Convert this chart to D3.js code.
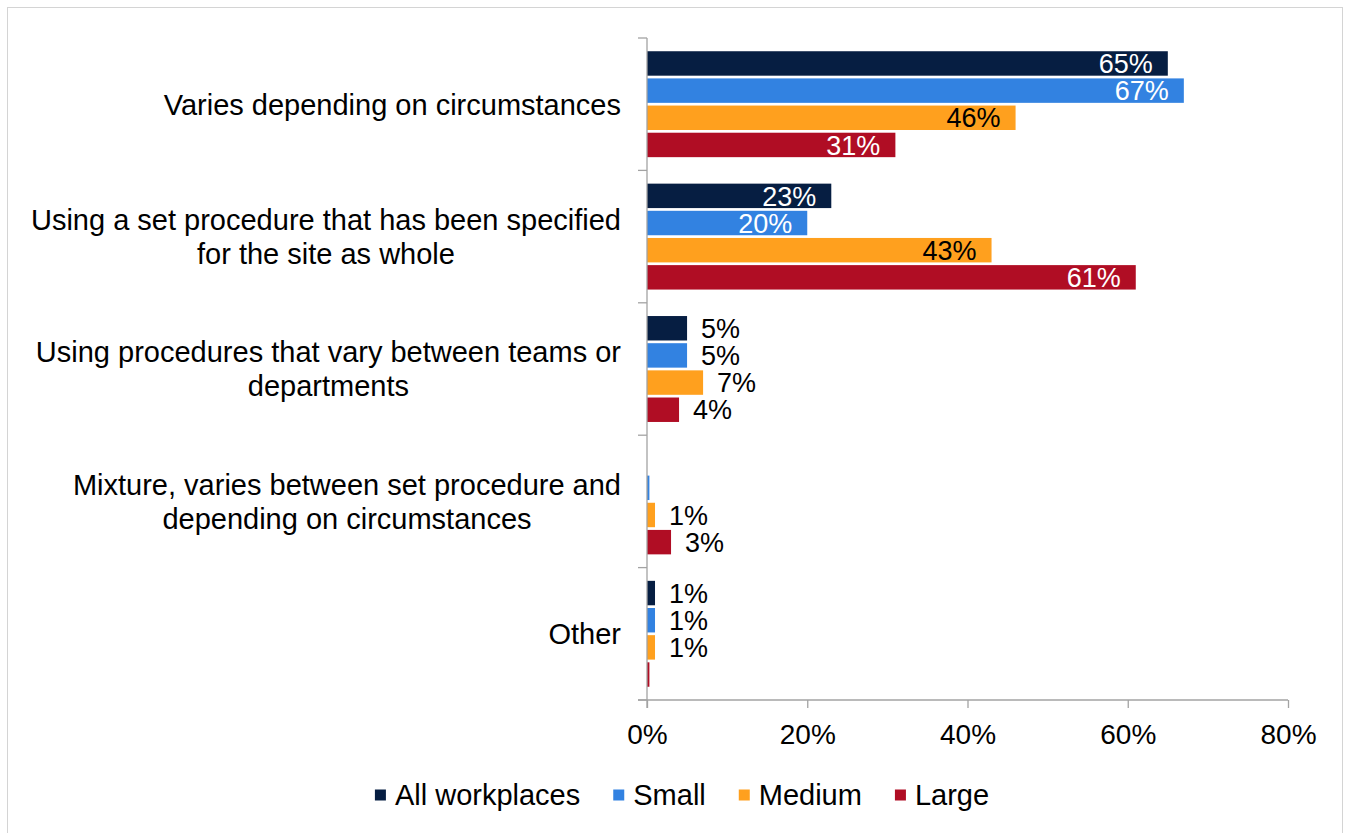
<!DOCTYPE html>
<html>
<head>
<meta charset="utf-8">
<script src="https://cdn.jsdelivr.net/npm/d3@7/dist/d3.min.js"></script>
<style>
  html, body { margin: 0; padding: 0; background: #fff; }
  svg { display: block; font-family: "Liberation Sans", Arial, sans-serif; }
</style>
</head>
<body>
<svg id="chart" width="1346" height="833"></svg>
<script>
// Categories (top to bottom), each split over display lines
const categories = [
  "Varies depending on circumstances",
  "Using a set procedure that has been specified for the site as whole",
  "Using procedures that vary between teams or departments",
  "Mixture, varies between set procedure and depending on circumstances",
  "Other"
];
const categoryLines = [
  ["Varies depending on circumstances"],
  ["Using a set procedure that has been specified", "for the site as whole"],
  ["Using procedures that vary between teams or", "departments"],
  ["Mixture, varies between set procedure and", "depending on circumstances"],
  ["Other"]
];

const seriesNames = ["All workplaces", "Small", "Medium", "Large"];
const seriesColors = ["#061e42", "#3282e1", "#ffa01e", "#b00d24"];
const labelInsideColors = ["#ffffff", "#ffffff", "#000000", "#ffffff"];

// Percentages per series, in category order
const allWorkplaces = [65, 23, 5, 0, 1];
const small = [67, 20, 5, 0.3, 1];
const medium = [46, 43, 7, 1, 1];
const large = [31, 61, 4, 3, 0.3];
const seriesValues = [allWorkplaces, small, medium, large];

const xTicks = [0, 20, 40, 60, 80];

const svg = d3.select("#chart");

// outer frame
svg.append("rect")
  .attr("x", 7.5).attr("y", 7.5)
  .attr("width", 1335).attr("height", 840)
  .attr("fill", "none").attr("stroke", "#d4d4d4").attr("stroke-width", 1);

const plot = { left: 647, right: 1288, top: 38, bottom: 700 };

const x = d3.scaleLinear().domain([0, 80]).range([plot.left, plot.right]);
const y0 = d3.scaleBand().domain(categories).range([plot.top, plot.bottom])
  .paddingInner(0.2).paddingOuter(0.1);
const y1 = d3.scaleBand().domain(seriesNames).range([0, y0.bandwidth()])
  .paddingInner(0.1);

const axisColor = "#a3a3a3";

// bars
const rows = [];
categories.forEach((c, ci) => {
  seriesNames.forEach((s, si) => {
    rows.push({ cat: c, ci, series: s, si, value: seriesValues[si][ci] });
  });
});

const barG = svg.append("g");
barG.selectAll("rect")
  .data(rows.filter(d => d.value > 0))
  .join("rect")
  .attr("x", x(0))
  .attr("y", d => y0(d.cat) + y1(d.series))
  .attr("width", d => x(d.value) - x(0))
  .attr("height", y1.bandwidth())
  .attr("fill", d => seriesColors[d.si]);

// value labels
const labelFont = 27;
barG.selectAll("text")
  .data(rows.filter(d => d.value >= 0.5))
  .join("text")
  .attr("font-size", labelFont)
  .attr("dy", "0.36em")
  .attr("y", d => y0(d.cat) + y1(d.series) + y1.bandwidth() / 2)
  .each(function (d) {
    const t = d3.select(this);
    if (d.value >= 15) {
      t.attr("x", x(d.value) - 15).attr("text-anchor", "end")
        .attr("fill", labelInsideColors[d.si]);
    } else {
      t.attr("x", x(d.value) + 14).attr("text-anchor", "start")
        .attr("fill", "#000");
    }
  })
  .text(d => Math.round(d.value) + "%");

// y axis (category axis) with ticks at band boundaries
const yAxisG = svg.append("g");
yAxisG.append("line")
  .attr("x1", plot.left).attr("x2", plot.left)
  .attr("y1", plot.top).attr("y2", plot.bottom + 8)
  .attr("stroke", axisColor).attr("stroke-width", 1.3);
const boundaries = categories.map(c => y0(c) - y0.step() * y0.paddingInner() / 2);
boundaries.push(plot.bottom);
yAxisG.selectAll("line.tick")
  .data(boundaries)
  .join("line")
  .attr("class", "tick")
  .attr("x1", plot.left - 9).attr("x2", plot.left)
  .attr("y1", d => d).attr("y2", d => d)
  .attr("stroke", axisColor).attr("stroke-width", 1.3);

// category labels: lines centred on each other, block right-aligned
const catFont = 29;
const lineH = 34;
const labelRight = 621;
const catG = svg.append("g");
categories.forEach((c, ci) => {
  const lines = categoryLines[ci];
  const cy = y0(c) + y0.bandwidth() / 2;
  const startY = cy - (lines.length - 1) * lineH / 2;
  const t = catG.append("text")
    .attr("text-anchor", "middle")
    .attr("font-size", catFont)
    .attr("fill", "#000");
  const spans = lines.map((ln, li) =>
    t.append("tspan").attr("x", 0).attr("y", startY + li * lineH).attr("dy", "0.36em").text(ln));
  const maxW = d3.max(spans, s => s.node().getComputedTextLength());
  spans.forEach(s => s.attr("x", labelRight - maxW / 2));
});

// x axis
const xAxis = d3.axisBottom(x)
  .tickValues(xTicks)
  .tickSize(8)
  .tickFormat(d => d + "%");
const xg = svg.append("g")
  .attr("transform", `translate(0,${plot.bottom})`)
  .call(xAxis);
xg.select(".domain").remove();
xg.append("line")
  .attr("x1", plot.left - 9).attr("x2", plot.right)
  .attr("y1", 0).attr("y2", 0)
  .attr("stroke", axisColor).attr("stroke-width", 1.3);
xg.selectAll(".tick line").attr("stroke", axisColor).attr("stroke-width", 1.3);
xg.selectAll(".tick text")
  .attr("font-size", 28)
  .attr("font-family", "Liberation Sans, Arial, sans-serif")
  .attr("fill", "#000")
  .attr("y", 34)
  .attr("dy", "0.36em");

// legend
const legendFont = 29;
const legend = svg.append("g");
const items = legend.selectAll("g").data(seriesNames).join("g");
items.append("rect")
  .attr("width", 11).attr("height", 11)
  .attr("y", -5.5)
  .attr("fill", (d, i) => seriesColors[i]);
items.append("text")
  .attr("x", 20)
  .attr("dy", "0.36em")
  .attr("font-size", legendFont)
  .attr("fill", "#000")
  .text(d => d);
let offset = 0;
const positions = [];
items.each(function () {
  positions.push(offset);
  const w = d3.select(this).select("text").node().getComputedTextLength();
  offset += 20 + w + 33;
});
const totalW = offset - 33;
const legendX = 682 - totalW / 2;
items.attr("transform", (d, i) => `translate(${legendX + positions[i]},795)`);
</script>
</body>
</html>
